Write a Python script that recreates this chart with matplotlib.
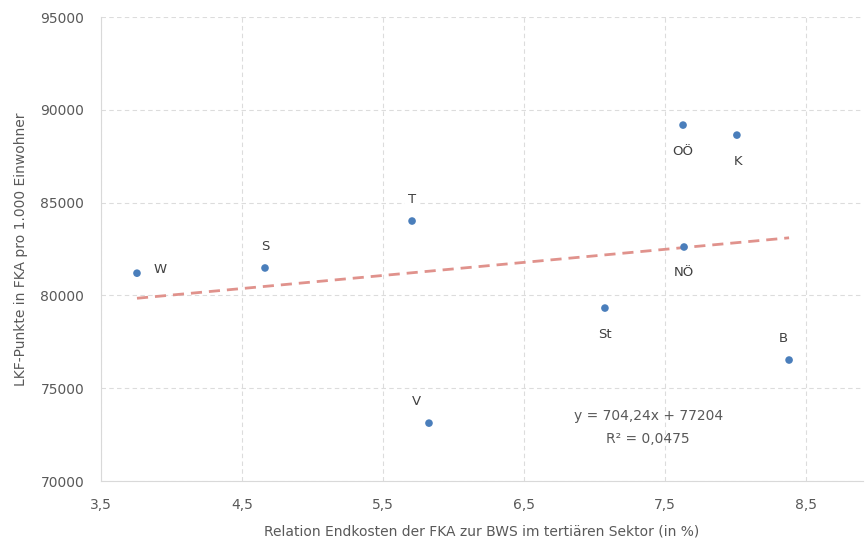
import numpy as np
import matplotlib.pyplot as plt

# data
labels = ['W', 'S', 'T', 'V', 'St', 'NÖ', 'OÖ', 'K', 'B']
x_vals = [3.755, 4.663, 5.706, 5.826, 7.074, 7.635, 7.628, 8.01, 8.38]
y_vals = [81200, 81480, 84010, 73120, 79320, 82610, 89180, 88640, 76520]

# label offsets in points (dx, dy) relative to each point
label_dx = [12, 0, 0, -9, 0, 0, 0, 1, -4]
label_dy = [3, 11, 11, 11, -14, -14, -14, -14, 11]

# trendline as given in the chart
slope = 704.24
intercept = 77204

xticks = [3.5, 4.5, 5.5, 6.5, 7.5, 8.5]
yticks = [70000, 75000, 80000, 85000, 90000, 95000]

grey = '#595959'
plt.rcParams['font.family'] = 'DejaVu Sans'

fig = plt.figure(figsize=(8.65, 5.42), dpi=100)
ax = fig.add_axes([0.1168, 0.1125, 0.881, 0.856])

tx = np.array([min(x_vals), max(x_vals)])
ax.plot(tx, slope * tx + intercept, color='#E0928C', lw=2, ls=(0, (4, 2.5)), zorder=2)
ax.scatter(x_vals, y_vals, s=30, color='#4A7EBB', zorder=3, edgecolors='none')

for lab, x, y, dx, dy in zip(labels, x_vals, y_vals, label_dx, label_dy):
    box = dict(facecolor='white', edgecolor='none', pad=2)
    if dy == 3:
        ha, va = 'left', 'center'
    elif dy > 0:
        ha, va = 'center', 'bottom'
    else:
        ha, va = 'center', 'top'
    ax.annotate(lab, (x, y), xytext=(dx, dy), textcoords='offset points',
                ha=ha, va=va, fontsize=9.5, color='#404040', bbox=box, zorder=4)

ax.text(7.38, 73500, 'y = 704,24x + 77204', ha='center', va='center', fontsize=10, color=grey)
ax.text(7.38, 72270, 'R² = 0,0475', ha='center', va='center', fontsize=10, color=grey)

ax.set_xlim(3.5, 8.905)
ax.set_ylim(70000, 95000)
ax.set_xticks(xticks)
ax.set_xticklabels([str(t).replace('.', ',') for t in xticks])
ax.set_yticks(yticks)
ax.tick_params(length=0, labelsize=10, colors=grey)
ax.tick_params(axis='x', pad=12)
ax.tick_params(axis='y', pad=12)
ax.grid(True, color='#DCDCDC', ls=(0, (4, 3)), lw=0.8)
ax.set_axisbelow(True)
for s in ['top', 'right']:
    ax.spines[s].set_visible(False)
for s in ['left', 'bottom']:
    ax.spines[s].set_color('#D9D9D9')

ax.set_xlabel('Relation Endkosten der FKA zur BWS im tertiären Sektor (in %)', fontsize=10, color=grey, labelpad=9)
ax.set_ylabel('LKF-Punkte in FKA pro 1.000 Einwohner', fontsize=10, color=grey, labelpad=9)

fig.savefig('out.png', dpi=100)
